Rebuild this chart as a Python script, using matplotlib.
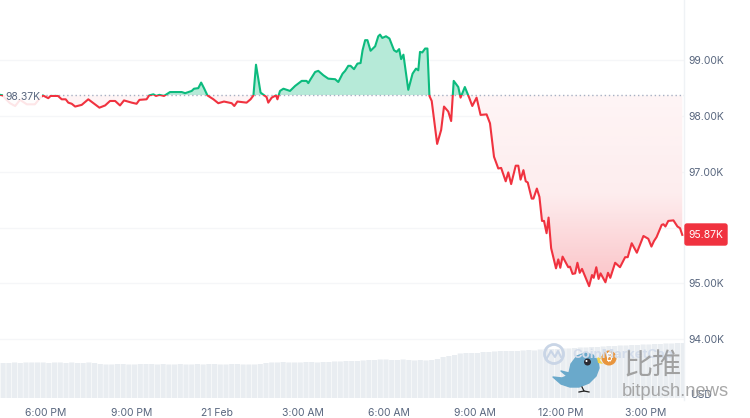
import numpy as np
import matplotlib
matplotlib.use('Agg')
import matplotlib.pyplot as plt
from matplotlib.colors import LinearSegmentedColormap
from matplotlib.patches import Circle, FancyBboxPatch, Polygon, Rectangle

plt.rcParams['font.family'] = ['Inter', 'DejaVu Sans']

# hours since 6:00 PM, price in thousands of USD
hours = [-1.61, -1.5, -1.44, -1.26, -1.08, -0.91, -0.67, -0.39, -0.21, -0.11, 0.08, 0.16, 0.42, 0.55, 0.69, 0.78, 0.90, 1.02, 1.25,
         1.48, 1.66, 1.87, 2.07, 2.24, 2.42, 2.59, 2.73, 3.00, 3.17, 3.27, 3.52, 3.61, 3.76, 3.85, 3.97, 4.13, 4.34, 4.75, 4.87,
         5.10, 5.18, 5.33, 5.43, 5.53, 5.65, 5.86, 6.03, 6.23, 6.50, 6.59, 6.70, 7.02, 7.16, 7.26, 7.35, 7.51, 7.72, 7.78, 7.90,
         8.05, 8.10, 8.19, 8.31, 8.54, 8.72, 8.95, 9.12, 9.18, 9.26, 9.42, 9.53, 9.71, 9.88, 10.12, 10.23, 10.29, 10.38, 10.47,
         10.58, 10.66, 10.78, 10.90, 11.01, 11.08, 11.17, 11.25, 11.36, 11.52, 11.63, 11.69, 11.77, 11.90, 12.02, 12.18, 12.27,
         12.36, 12.43, 12.51, 12.68, 12.83, 12.95, 13.03, 13.09, 13.17, 13.27, 13.35, 13.42, 13.50, 13.69, 13.83, 13.93, 14.08,
         14.18, 14.27, 14.43, 14.51, 14.66, 14.81, 14.92, 15.07, 15.21, 15.42, 15.54, 15.68, 15.83, 15.93, 16.09, 16.18, 16.28,
         16.44, 16.53, 16.61, 16.71, 16.79, 16.86, 17.00, 17.06, 17.18, 17.27, 17.36, 17.43, 17.52, 17.59, 17.68, 17.85, 17.93,
         18.00, 18.08, 18.28, 18.34, 18.43, 18.52, 18.60, 18.68, 18.76, 19.01, 19.11, 19.17, 19.26, 19.34, 19.41, 19.58, 19.67,
         19.75, 19.92, 20.09, 20.27, 20.36, 20.50, 20.68, 20.91, 21.08, 21.19, 21.28, 21.37, 21.55, 21.61, 21.68, 21.78, 21.96,
         22.10, 22.19, 22.27]
prices = [98.38, 98.37, 98.32, 98.23, 98.18, 98.29, 98.21, 98.21, 98.32, 98.37, 98.32, 98.36, 98.36, 98.30, 98.30, 98.24, 98.22, 98.17, 98.20,
          98.30, 98.23, 98.15, 98.19, 98.27, 98.27, 98.19, 98.28, 98.24, 98.22, 98.29, 98.30, 98.37, 98.39, 98.36, 98.38, 98.36, 98.43, 98.43, 98.41,
          98.45, 98.49, 98.50, 98.60, 98.50, 98.37, 98.30, 98.23, 98.26, 98.23, 98.18, 98.26, 98.24, 98.30, 98.37, 98.92, 98.42, 98.34, 98.24, 98.33,
          98.37, 98.30, 98.45, 98.49, 98.45, 98.54, 98.63, 98.63, 98.59, 98.66, 98.79, 98.81, 98.73, 98.67, 98.66, 98.61, 98.67, 98.76, 98.81,
          98.90, 98.90, 98.84, 98.94, 98.95, 99.18, 99.36, 99.36, 99.17, 99.25, 99.43, 99.46, 99.40, 99.43, 99.39, 99.18, 99.15,
          99.20, 99.02, 99.10, 98.47, 98.76, 98.85, 98.82, 99.15, 99.14, 99.21, 99.21, 98.36, 98.27, 97.50, 97.75, 98.17, 98.08,
          97.91, 98.63, 98.52, 98.33, 98.52, 98.33, 98.18, 98.33, 98.02, 98.03, 97.87, 97.27, 97.06, 97.07, 96.83, 96.99, 96.78,
          97.11, 97.11, 96.86, 97.03, 96.83, 96.81, 96.52, 96.52, 96.70, 96.55, 96.12, 96.12, 95.90, 96.18, 95.63, 95.27, 95.43,
          95.28, 95.48, 95.29, 95.30, 95.17, 95.18, 95.37, 95.19, 95.26, 94.95, 95.15, 95.10, 95.29, 95.08, 95.18, 95.02, 95.19,
          95.10, 95.37, 95.29, 95.47, 95.47, 95.72, 95.55, 95.85, 95.80, 95.66, 95.76, 95.83, 96.05, 96.06, 96.02, 96.12, 96.13,
          96.02, 95.99, 95.87]

# one volume bar every 0.2 h, arbitrary units
volume = [35, 35, 35.5, 35, 35.5, 35.5, 35.5, 35.5, 35, 35.5, 35.5, 35, 35.5, 35, 35, 35.5, 35, 34, 33.5, 33.5,
          34, 34, 33.5, 33.5, 34, 34, 34, 33.5, 34, 33.5, 33.5, 34, 33.5, 33.5, 34, 33.5, 34, 34, 33.5, 33.5,
          34, 34, 33.5, 33.5, 33.5, 34, 35, 35.5, 35.5, 36, 35.5, 35.5, 35.5, 36, 36, 35.5, 36, 36, 36.5, 36.5,
          37, 37, 37, 37.5, 38, 38, 38.5, 38.5, 38, 38, 38.5, 38, 37.5, 38, 37.5, 38, 39, 41, 42, 43,
          44.5, 45, 45, 45, 46, 46, 46.5, 47, 47, 47, 47, 47.5, 48, 47.5, 48.5, 49, 49, 49, 49.5, 49.5,
          50, 50.5, 50.5, 51, 51, 51.5, 52, 52, 52.5, 52.5, 53, 53, 53.5, 53.5, 54, 54, 54.5, 54.5, 55, 55]
vol_hours = np.arange(len(volume)) * 0.2 - 1.5

y_ticks = [94, 95, 96, 97, 98, 99]
y_labels = ['94.00K', '95.00K', '96.00K', '97.00K', '98.00K', '99.00K']
x_ticks = [0, 3, 6, 9, 12, 15, 18, 21]
x_labels = ['6:00 PM', '9:00 PM', '21 Feb', '3:00 AM', '6:00 AM', '9:00 AM', '12:00 PM', '3:00 PM']
baseline = 98.37
last_price = prices[-1]

GREEN = '#0cbb7e'
RED = '#f0323f'
GREY = '#58667e'

W, H = 750, 418
fig = plt.figure(figsize=(W / 100, H / 100), dpi=100, facecolor='white')
ax = fig.add_axes([0, 1 - 400 / H, 684 / W, 400 / H])
xlim = (-1.61, 22.33)
ylim = (92.91, 100.08)
ax.set_xlim(xlim)
ax.set_ylim(ylim)
for s in ['top', 'left', 'bottom']:
    ax.spines[s].set_visible(False)
ax.spines['right'].set_color('#eff2f5')
ax.spines['right'].set_linewidth(1)

ax.set_yticks(y_ticks)
ax.set_yticklabels(y_labels)
ax.yaxis.tick_right()
ax.set_xticks(x_ticks)
ax.set_xticklabels(x_labels)
ax.tick_params(axis='y', length=0, pad=3.5, labelsize=7.5, labelcolor=GREY)
ax.tick_params(axis='x', length=0, pad=6, labelsize=7.5, labelcolor=GREY)
ax.grid(True, axis='y', color='#f5f6f8', lw=1)
ax.set_axisbelow(True)

# volume on its own scale, same time axis
vax = fig.add_axes([0, 1 - 398 / H, 684 / W, 98 / H], sharex=ax)
vax.patch.set_alpha(0)
vax.set_ylim(0, 98)
vax.axis('off')
bars = vax.bar(vol_hours, volume, width=0.18, color='#e9edf1', lw=0)
for b in bars:
    b.set_snap(False)

hrs = np.array(hours)
pr = np.array(prices)
poly_x = np.r_[hrs[0], hrs, hrs[-1]]
poly_y = np.r_[baseline, pr, baseline]

# green and pink fills clipped to the area between line and baseline
im = ax.imshow(np.array([[0.3], [0.3]]), extent=(xlim[0], xlim[1], baseline, ylim[1]), aspect='auto',
               cmap=LinearSegmentedColormap.from_list('g', ['white', GREEN]), vmin=0, vmax=1, zorder=2)
im.set_clip_path(Polygon(np.c_[poly_x, poly_y], closed=True, transform=ax.transData))

grad_y = np.linspace(94.9, baseline, 256)
grad = np.interp(grad_y, [94.9, 95.9, 96.6, baseline], [0.30, 0.18, 0.09, 0.05]).reshape(-1, 1)
im2 = ax.imshow(grad, extent=(xlim[0], xlim[1], 94.9, baseline), aspect='auto', origin='lower',
                cmap=LinearSegmentedColormap.from_list('r', ['white', RED]), vmin=0, vmax=1, zorder=2)
im2.set_clip_path(Polygon(np.c_[poly_x, poly_y], closed=True, transform=ax.transData))
ax.set_xlim(xlim)
ax.set_ylim(ylim)

ax.axhline(baseline, color='#a6b0c3', lw=1, ls=(0, (1, 2)), zorder=3)

# same line twice, each clipped to one side of the baseline
up_line, = ax.plot(hours, prices, color=GREEN, lw=1.5, zorder=4, solid_joinstyle='round')
up_line.set_clip_path(Rectangle((xlim[0], baseline), xlim[1] - xlim[0], ylim[1] - baseline, transform=ax.transData))
dn_line, = ax.plot(hours, prices, color=RED, lw=1.5, zorder=4, solid_joinstyle='round')
dn_line.set_clip_path(Rectangle((xlim[0], ylim[0]), xlim[1] - xlim[0], baseline - ylim[0], transform=ax.transData))

# overlay in pixel coordinates for labels and the watermark
ov = fig.add_axes([0, 0, 1, 1], zorder=10)
ov.set_xlim(0, W)
ov.set_ylim(H, 0)
ov.axis('off')
ov.patch.set_alpha(0)

ov.add_patch(Rectangle((3, 90), 39, 18, color='white', alpha=0.88, lw=0))
ov.text(22.5, 97.5, '98.37K', ha='center', va='center', fontsize=7.5, color=GREY)

ov.add_patch(FancyBboxPatch((685, 224), 42, 21, boxstyle='round,pad=0,rounding_size=2', fc=RED, ec=RED, lw=1))
ov.text(706, 234.5, '%.2fK' % last_price, ha='center', va='center', fontsize=7.5, color='white')
ov.text(701, 395, 'USD', ha='center', va='center', fontsize=7.5, color=GREY)

# watermark
ov.add_patch(Circle((554, 354), 9.5, fc='none', ec='#c9d5e6', lw=2))
ov.plot([547, 551, 555, 558, 561], [358, 351, 357, 351, 357], color='#c9d5e6', lw=1.5)
ov.text(572, 354.5, 'CoinMarketCap', fontsize=9.5, color='#d3dcea', va='center', fontweight='bold')
body = [(553, 377), (562, 378), (567, 376), (561, 371), (569, 373), (571, 364), (577, 356), (585, 353),
        (593, 355), (598, 361), (599, 368), (596, 376), (589, 383), (579, 387), (570, 387), (561, 384)]
ov.add_patch(Polygon(body, closed=True, fc='#6aa9cb', ec='#6aa9cb', lw=1, joinstyle='round'))
ov.add_patch(Polygon([(597, 358), (602, 356), (600, 360), (603, 364), (598, 363)], closed=True, fc='#f2d34f', lw=0))
ov.add_patch(Circle((587.5, 362), 3.5, fc='#2b2b33', lw=0))
ov.add_patch(Circle((586.5, 361), 1, fc='white', lw=0))
ov.plot([582, 584, 579], [387, 391, 392], color='#222222', lw=0.9)
ov.plot([584, 589], [391, 392], color='#222222', lw=0.9)
ov.add_patch(Circle((609, 358), 7.5, fc='#e8953e', lw=0))
ov.text(609, 358.5, '₿', ha='center', va='center', fontsize=8, color='white',
        family=['Noto Sans', 'Roboto', 'Open Sans', 'Lato', 'Liberation Sans', 'DejaVu Sans'], fontweight='bold')
ov.text(623, 366, '比推', fontsize=21, color='#999999', va='center', style='italic',
        family=['Noto Sans CJK SC', 'DejaVu Sans'], alpha=0.9)
ov.text(622, 391, 'bitpush.news', fontsize=13.2, color='#999999', va='center', family='Liberation Sans', alpha=0.85)

fig.savefig('out.png', dpi=100)
